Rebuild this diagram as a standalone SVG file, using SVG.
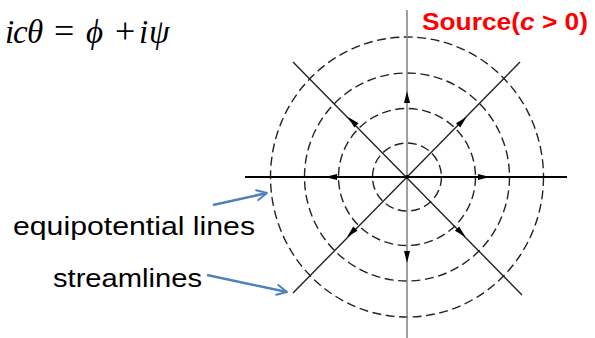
<svg xmlns="http://www.w3.org/2000/svg" xmlns:xlink="http://www.w3.org/1999/xlink" width="595" height="338" viewBox="0 0 595 338">
<style>
.eq{fill:none;stroke:#222;stroke-width:1.4;stroke-dasharray:9 4.5}
.sl{stroke:#222;stroke-width:1.4}
.math{font-family:"Liberation Serif","Times New Roman",serif;font-size:33px;fill:#000}
.it{font-style:italic}
.lbl{font-family:"Liberation Sans",Arial,sans-serif;font-size:25px;fill:#000}
.ptr{fill:none;stroke:#4f81bd;stroke-width:2.5}
</style>
<defs>
<path id="ah" d="M-7,-3 L5,0 L-7,3 Z" fill="#000"/>
<marker id="open" viewBox="0 0 10 10" refX="9" refY="5" markerWidth="5" markerHeight="5" markerUnits="strokeWidth" orient="auto">
<path d="M1,1 L9,5 L1,9" fill="none" stroke="#4f81bd" stroke-width="1.6" stroke-linecap="round" stroke-linejoin="round"/>
</marker>
</defs>
<rect width="595" height="338" fill="#fff"/>
<g id="formula" class="math">
<text class="it" x="5" y="43">i</text>
<text class="it" x="13" y="43">c</text>
<text class="it" x="27" y="43">θ</text>
<text x="54" y="43" font-size="36">=</text>
<text class="it" x="86" y="43">ϕ</text>
<text x="115" y="43" font-size="36">+</text>
<text class="it" x="139" y="43">i</text>
<text class="it" x="149" y="43">ψ</text>
</g>
<g id="title">
<text x="422" y="30" font-family="Liberation Sans,Arial,sans-serif" font-weight="bold" font-size="24" fill="#ff0000" textLength="166" lengthAdjust="spacingAndGlyphs">Source(<tspan font-style="italic">c</tspan> &gt; 0)</text>
</g>
<g id="equipotentials">
<ellipse class="eq" cx="407" cy="177" rx="34.5" ry="34"/>
<ellipse class="eq" cx="407" cy="177" rx="68.5" ry="68.5"/>
<ellipse class="eq" cx="407" cy="177" rx="102.5" ry="104"/>
<ellipse class="eq" cx="407" cy="177" rx="136.5" ry="140"/>
</g>
<g id="streamlines">
<line x1="407" y1="10" x2="407" y2="338" stroke="#888" stroke-width="1.6"/>
<line x1="245" y1="177" x2="567" y2="177" stroke="#000" stroke-width="2"/>
<line class="sl" x1="293" y1="62" x2="522" y2="295"/>
<line class="sl" x1="520" y1="62" x2="293" y2="293"/>
<circle cx="407" cy="177" r="2" fill="#000"/>
<use xlink:href="#ah" transform="translate(330,177) rotate(180)"/>
<use xlink:href="#ah" transform="translate(485,177)"/>
<use xlink:href="#ah" transform="translate(407,96) rotate(-90)"/>
<use xlink:href="#ah" transform="translate(407,258) rotate(90)"/>
<use xlink:href="#ah" transform="translate(351.5,120.5) rotate(-135)"/>
<use xlink:href="#ah" transform="translate(463,120.5) rotate(-45)"/>
<use xlink:href="#ah" transform="translate(350.5,233.5) rotate(135)"/>
<use xlink:href="#ah" transform="translate(462,233.5) rotate(45)"/>
</g>
<g id="label-equipotential">
<text class="lbl" x="13" y="235" textLength="242" lengthAdjust="spacingAndGlyphs">equipotential lines</text>
</g>
<g id="label-streamlines">
<text class="lbl" x="53" y="287" textLength="149" lengthAdjust="spacingAndGlyphs">streamlines</text>
</g>
<g id="connectors">
<line class="ptr" x1="213" y1="205" x2="267" y2="193" marker-end="url(#open)"/>
<line class="ptr" x1="207" y1="275" x2="287" y2="292" marker-end="url(#open)"/>
</g>
</svg>
